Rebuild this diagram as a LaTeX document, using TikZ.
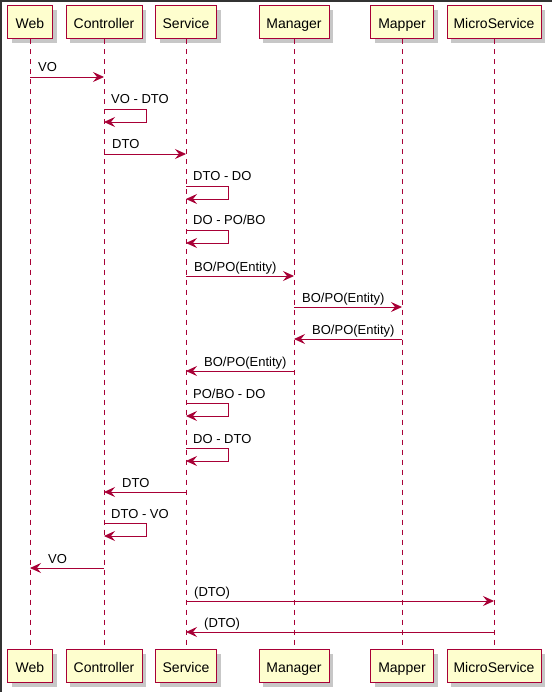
\documentclass[tikz,border=0pt]{standalone}
\usepackage{fontspec}
\setmainfont{Liberation Sans}
\usetikzlibrary{arrows.meta,calc,shadows}
\definecolor{pu}{HTML}{A80036}
\definecolor{pbox}{HTML}{FEFECE}
\begin{document}
\begin{tikzpicture}[x=1pt,y=-1pt,
  part/.style={draw=pu, fill=pbox, line width=1pt, minimum height=33pt, inner sep=0pt,
    text height=13pt, text depth=0pt,
    font=\fontsize{14}{16}\selectfont,
    general shadow={fill=black!22, shadow xshift=4pt, shadow yshift=-4pt}},
  life/.style={draw=pu, line width=0.8pt, dash pattern=on 5pt off 5pt},
  msg/.style={draw=pu, line width=0.9pt, -{Stealth[length=11pt,width=10pt,inset=4pt]}},
  lbl/.style={font=\fontsize{13}{15}\selectfont, anchor=base west, inner sep=0pt}]
\useasboundingbox (0,0) rectangle (552,692);
\fill[black!80] (0,0) rectangle (2,692);
\fill[black!80] (0,0) rectangle (552,2);
% participants (top)
\node[part, minimum width=45pt] (webT) at (30,22.5) {Web};
\node[part, minimum width=76pt] (ctrlT) at (104,22.5) {Controller};
\node[part, minimum width=61pt] (svcT) at (186,22.5) {Service};
\node[part, minimum width=70pt] (mgrT) at (294,22.5) {Manager};
\node[part, minimum width=63pt] (mapT) at (402,22.5) {Mapper};
\node[part, minimum width=94pt] (micT) at (494,22.5) {MicroService};
% participants (bottom)
\node[part, minimum width=45pt] (webB) at (30,666) {Web};
\node[part, minimum width=76pt] (ctrlB) at (104,666) {Controller};
\node[part, minimum width=61pt] (svcB) at (186,666) {Service};
\node[part, minimum width=70pt] (mgrB) at (294,666) {Manager};
\node[part, minimum width=63pt] (mapB) at (402,666) {Mapper};
\node[part, minimum width=94pt] (micB) at (494,666) {MicroService};
% lifelines
\foreach \p in {web,ctrl,svc,mgr,map,mic}{
  \draw[life] (\p T.south) -- (\p B.north);
}
% forward / backward messages
\newcommand{\fwd}[4]{%
  \draw[msg] (#1T.south |- 0,#3) -- (#2T.south |- 0,#3);
  \node[lbl] at ($(#1T.south |- 0,#3)+(8,-5)$) {#4};}
\newcommand{\bwd}[4]{%
  \draw[msg] (#1T.south |- 0,#3) -- (#2T.south |- 0,#3);
  \node[lbl] at ($(#2T.south |- 0,#3)+(18,-5)$) {#4};}
\newcommand{\selfmsg}[3]{%
  \draw[msg] (#1T.south |- 0,#2) -- ++(42,0) -- ++(0,13) -- (#1T.south |- 0,#2+13);
  \node[lbl] at ($(#1T.south |- 0,#2)+(7,-5)$) {#3};}
\fwd{web}{ctrl}{77}{VO}
\selfmsg{ctrl}{109}{VO - DTO}
\fwd{ctrl}{svc}{154}{DTO}
\selfmsg{svc}{186}{DTO - DO}
\selfmsg{svc}{230}{DO - PO/BO}
\fwd{svc}{mgr}{276}{BO/PO(Entity)}
\fwd{mgr}{map}{307}{BO/PO(Entity)}
\bwd{map}{mgr}{339}{BO/PO(Entity)}
\bwd{mgr}{svc}{371}{BO/PO(Entity)}
\selfmsg{svc}{403}{PO/BO - DO}
\selfmsg{svc}{448}{DO - DTO}
\bwd{svc}{ctrl}{492}{DTO}
\selfmsg{ctrl}{523}{DTO - VO}
\bwd{ctrl}{web}{568}{VO}
\fwd{svc}{mic}{601}{(DTO)}
\bwd{mic}{svc}{632}{(DTO)}
\end{tikzpicture}
\end{document}
